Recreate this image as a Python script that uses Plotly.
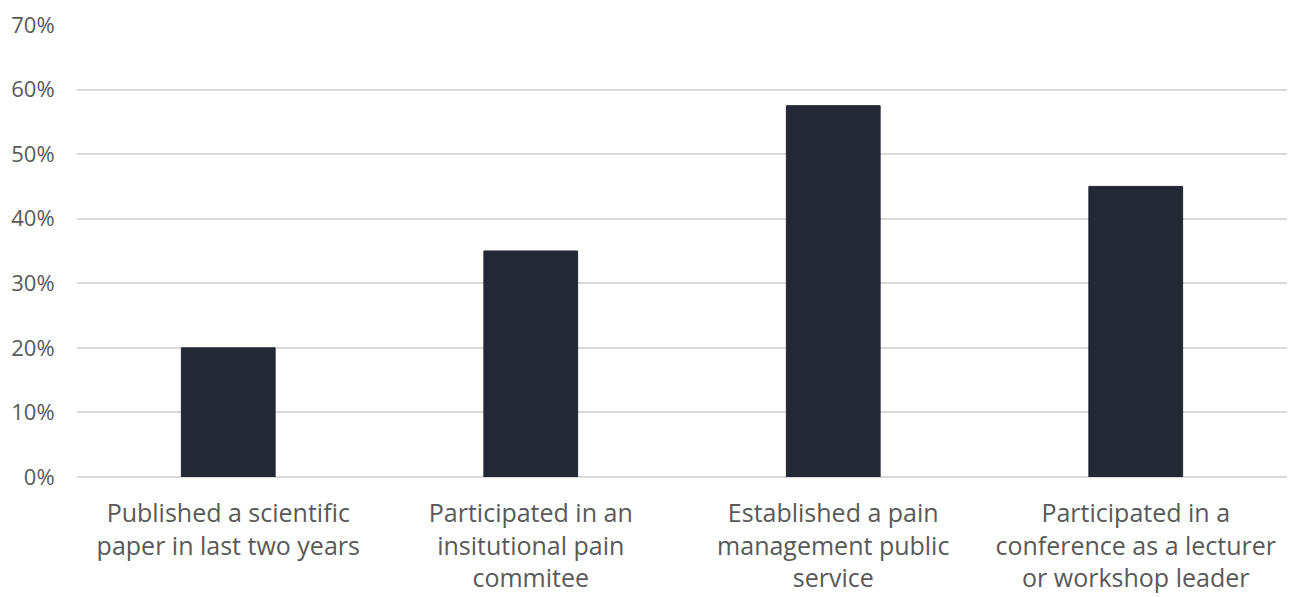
import plotly.graph_objects as go

# Share of respondents reporting each professional activity
categories = [
    "Published a scientific<br>paper in last two years",
    "Participated in an<br>insitutional pain<br>commitee",
    "Established a pain<br>management public<br>service",
    "Participated in a<br>conference as a lecturer<br>or workshop leader",
]
shares = [0.20, 0.35, 0.575, 0.45]
y_ticks = [0, 0.1, 0.2, 0.3, 0.4, 0.5, 0.6, 0.7]
y_tick_labels = ["0%", "10%", "20%", "30%", "40%", "50%", "60%", "70%"]

fig = go.Figure(
    go.Bar(
        x=categories,
        y=shares,
        marker=dict(color="#232834", line=dict(color="#232834", width=1)),
        width=0.31,
    )
)

fig.update_layout(
    width=1290,
    height=597,
    margin=dict(l=77, r=3, t=24, b=120),
    paper_bgcolor="white",
    plot_bgcolor="white",
    showlegend=False,
    font=dict(family="Open Sans", color="#595959"),
)
fig.update_xaxes(
    automargin=False,
    showgrid=False,
    showline=False,
    ticks="outside",
    ticklen=14,
    tickcolor="white",
    tickfont=dict(size=25, color="#595959"),
)
fig.update_yaxes(
    automargin=False,
    range=[0, 0.7015],
    tickvals=y_ticks,
    ticktext=y_tick_labels,
    showgrid=True,
    gridcolor="#d9d9d9",
    gridwidth=1.5,
    zeroline=True,
    zerolinecolor="#d9d9d9",
    zerolinewidth=1.5,
    showline=False,
    ticks="outside",
    ticklen=17,
    tickcolor="white",
    tickfont=dict(size=22, color="#595959"),
)

fig.write_html("out.html")
